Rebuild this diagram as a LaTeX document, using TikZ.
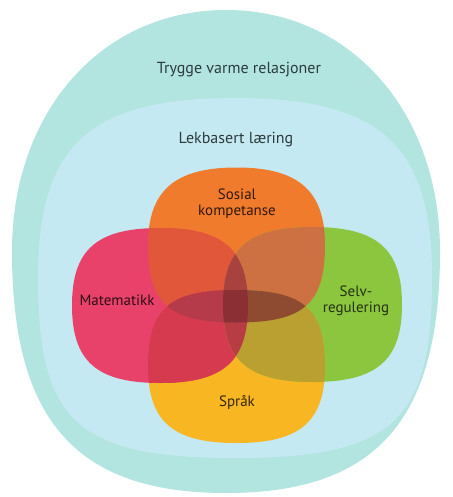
\documentclass[tikz,border=0pt]{standalone}
\usepackage{fontspec}
\setmainfont{PT Sans}
% squircle path: cx, cy, a, b, k(top), k(bottom)   (y grows downward)
\newcommand\sqp[6]{({#1+#3},#2) .. controls ({#1+#3},{#2-#5*#4}) and ({#1+#5*#3},{#2-#4}) .. (#1,{#2-#4}) .. controls ({#1-#5*#3},{#2-#4}) and ({#1-#3},{#2-#5*#4}) .. ({#1-#3},#2) .. controls ({#1-#3},{#2+#6*#4}) and ({#1-#6*#3},{#2+#4}) .. (#1,{#2+#4}) .. controls ({#1+#6*#3},{#2+#4}) and ({#1+#3},{#2+#6*#4}) .. ({#1+#3},#2) -- cycle}
\newcommand\pSo{\sqp{236.5}{245}{88.5}{77.5}{0.7}{0.76}}
\newcommand\pSp{\sqp{236.5}{366.5}{88.5}{76.5}{0.76}{0.72}}
\newcommand\pMa{\sqp{160}{305.5}{88}{77.5}{0.72}{0.72}}
\newcommand\pSe{\sqp{312.5}{304.5}{89.5}{77.5}{0.72}{0.72}}
\definecolor{outerc}{HTML}{B2E4E0}
\definecolor{innerc}{HTML}{C5E9F2}
\definecolor{cSo}{HTML}{F07B2C}
\definecolor{cMa}{HTML}{E8426A}
\definecolor{cSe}{HTML}{8CC63F}
\definecolor{cSp}{HTML}{F8B722}
\definecolor{cSoMa}{HTML}{E0573A}
\definecolor{cSoSe}{HTML}{CD7142}
\definecolor{cMaSp}{HTML}{D63A4E}
\definecolor{cSeSp}{HTML}{B9A031}
\definecolor{cSoSpMa}{HTML}{B53A4A}
\definecolor{cSoSpSe}{HTML}{8F4A32}
\definecolor{cMaSeSo}{HTML}{A8423E}
\definecolor{cMaSeSp}{HTML}{B83C44}
\definecolor{cAll}{HTML}{8A3034}
\definecolor{txt}{HTML}{2C3C3E}
\tikzset{
  lbl/.style={font=\fontsize{15}{16}\selectfont, align=center, inner sep=0pt},
  biglbl/.style={font=\fontsize{16}{18}\selectfont, align=center, inner sep=0pt, text=txt},
}
\begin{document}
\begin{tikzpicture}[x=1pt,y=-1pt]
\useasboundingbox (0,0) rectangle (452,497);
\fill[white] (0,0) rectangle (452,497);
% outer and inner regions
\fill[outerc] \sqp{226}{251.5}{214}{241.5}{0.58}{0.7};
\fill[innerc] \sqp{235}{278}{197}{180}{0.74}{0.8};
% petals
\fill[cSo] \pSo;
\fill[cSp] \pSp;
\fill[cMa] \pMa;
\fill[cSe] \pSe;
% pairwise overlaps
\begin{scope}\clip \pSo; \fill[cSoMa] \pMa; \fill[cSoSe] \pSe; \end{scope}
\begin{scope}\clip \pSp; \fill[cMaSp] \pMa; \fill[cSeSp] \pSe; \end{scope}
% Sosial & Spraak lens
\begin{scope}\clip \pSo; \clip \pSp; \fill[cSoSpMa] \pMa; \fill[cSoSpSe] \pSe; \end{scope}
% Matematikk & Selvregulering lens
\begin{scope}\clip \pMa; \clip \pSe; \fill[cMaSeSo] \pSo; \fill[cMaSeSp] \pSp; \end{scope}
% all four
\begin{scope}\clip \pMa; \clip \pSe; \clip \pSo; \fill[cAll] \pSp; \end{scope}
% labels
\node[biglbl] (trygge) at (239,70) {Trygge varme relasjoner};
\node[biglbl] (lek) at (236,140) {Lekbasert læring};
\node[lbl, text=black!80!cSo] (sosial) at (237,204) {Sosial\\kompetanse};
\node[lbl, text=black!80!cMa] (mat) at (117,300) {Matematikk};
\node[lbl, text=black!75!cSe] (selv) at (356,301) {Selv-\\regulering};
\node[lbl, text=black!80!cSp] (sprak) at (237,402) {Språk};
\end{tikzpicture}
\end{document}
